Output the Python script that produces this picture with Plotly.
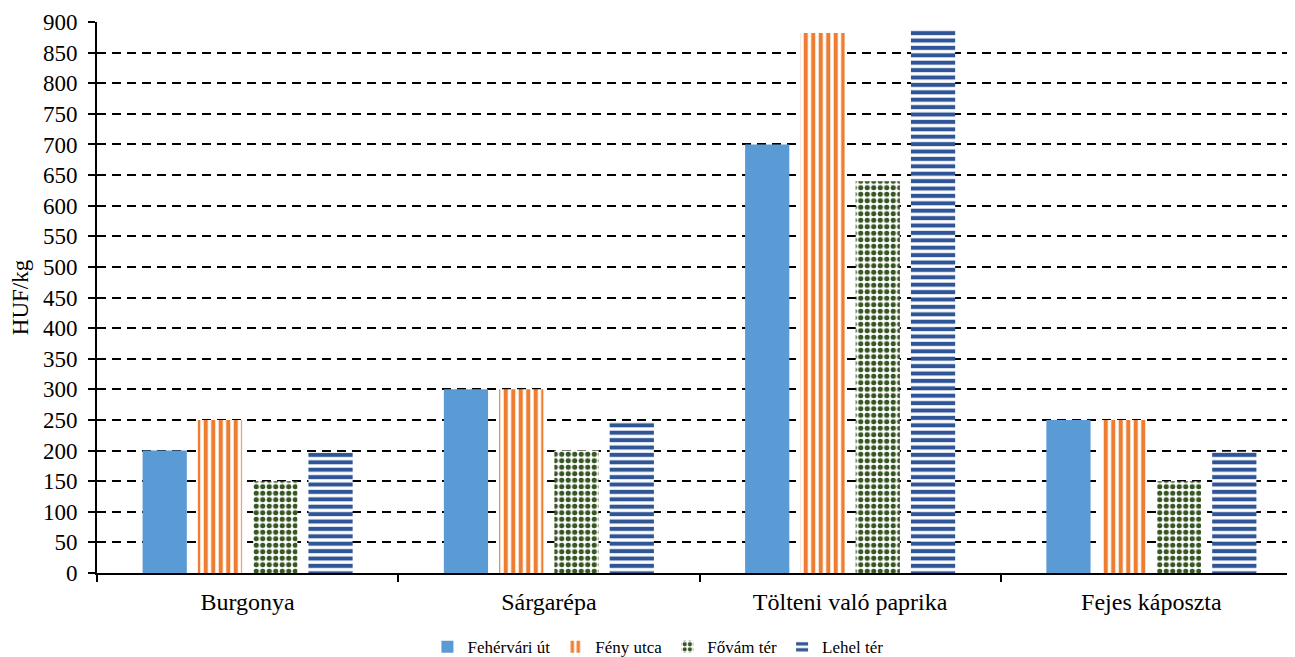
import plotly.graph_objects as go

categories = ["Burgonya", "Sárgarépa", "Tölteni való paprika", "Fejes káposzta"]
series_names = ["Fehérvári út", "Fény utca", "Fővám tér", "Lehel tér"]
fehervari = [200, 300, 700, 250]
feny = [250, 300, 882, 250]
fovam = [150, 200, 640, 150]
lehel = [197, 247, 888, 198]
y_ticks = list(range(0, 901, 50))

values = [fehervari, feny, fovam, lehel]
colors = ["#5B9BD5", "#ED7D31", "#375623", "#2F5597"]
shapes = ["", "|", ".", "-"]
sizes = [8, 7.5, 6.5, 7.4]
solid = [0.5, 0.55, 0.5, 0.55]

fig = go.Figure()
for name, vals, col, shp, sz, so in zip(series_names, values, colors, shapes, sizes, solid):
    if shp:
        marker = dict(color="white", line=dict(width=0),
                      pattern=dict(shape=shp, fgcolor=col, bgcolor="white", fgopacity=1,
                                   size=sz, solidity=so, fillmode="overlay"))
    else:
        marker = dict(color=col, line=dict(width=0))
    fig.add_trace(go.Bar(name=name, x=categories, y=vals, marker=marker))

font_family = "Liberation Serif, Times New Roman, serif"
# page body has an 8px margin: figure is offset by 8px
fig.update_layout(
    width=1287, height=649,
    barmode="group", bargap=0.266, bargroupgap=0.2,
    plot_bgcolor="white", paper_bgcolor="white",
    margin=dict(l=89, r=0, t=14, b=84),
    font=dict(family=font_family, color="black"),
    showlegend=True,
    legend=dict(orientation="h", xref="container", yref="container",
                x=0.505, xanchor="center", y=0.015, yanchor="middle",
                font=dict(size=17, family=font_family), itemwidth=30,
                traceorder="normal"),
)
fig.update_xaxes(
    range=[-0.5, -0.5 + (1295 - 97) / 301.25],
    showline=True, linecolor="black", linewidth=2,
    ticks="outside", tickson="boundaries", ticklen=7, tickwidth=1.5, tickcolor="black",
    tickfont=dict(size=24, family=font_family), ticklabelstandoff=6,
    showgrid=False,
)
fig.update_yaxes(
    range=[0, 900], tickvals=y_ticks,
    showline=True, linecolor="black", linewidth=2,
    ticks="outside", ticklen=7, tickwidth=1.5, tickcolor="black",
    tickfont=dict(size=23, family=font_family), ticklabelstandoff=6,
    showgrid=True, gridcolor="black", gridwidth=2, griddash="9px,6px",
    zeroline=False,
    title=dict(text="HUF/kg", font=dict(size=23, family=font_family), standoff=12),
)
fig.write_html("out.html")
